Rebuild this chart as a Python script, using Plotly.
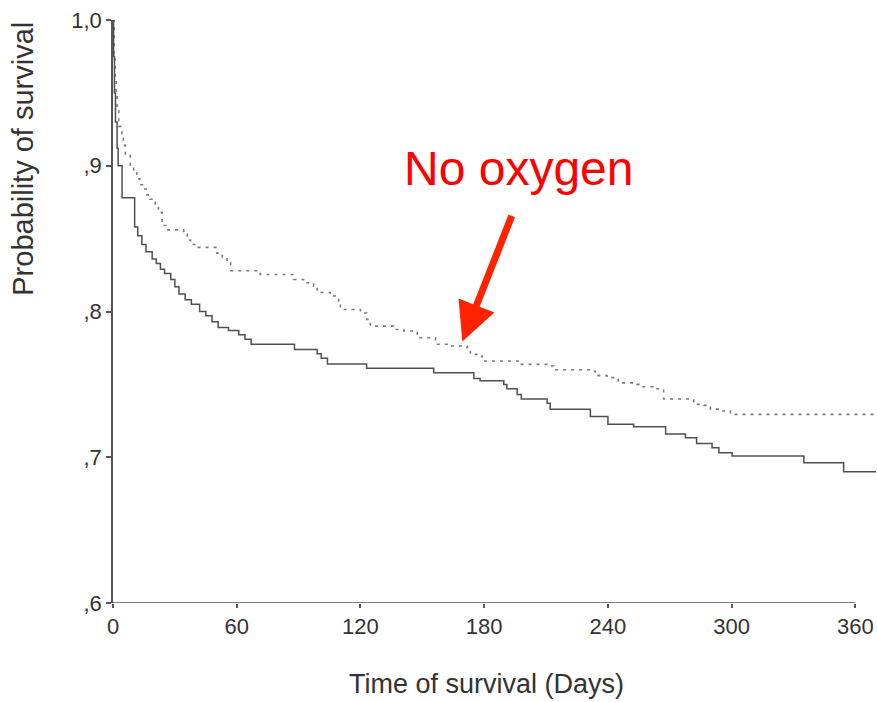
import plotly.graph_objects as go

# ---- data ----
oxygen_days = [0, 0.3, 0.7, 1.2, 2, 2.5, 4.4, 10.5, 12, 14, 16, 19, 21, 23, 25, 28, 30, 32, 35, 38,
               42, 45, 48, 51, 56, 61, 64, 67, 88, 99, 101, 104, 123, 155.5, 175, 178, 189.5, 191,
               196, 198, 210.5, 212, 231.5, 240, 252.5, 268, 277.6, 283, 290.5, 293.8, 300.2,
               335, 354.3, 370]
oxygen_surv = [1.0, 0.975, 0.95, 0.93, 0.912, 0.9, 0.878, 0.858, 0.852, 0.846, 0.841, 0.836, 0.833,
               0.829, 0.826, 0.822, 0.817, 0.812, 0.808, 0.805, 0.800, 0.797, 0.793, 0.789, 0.787,
               0.784, 0.781, 0.7775, 0.774, 0.771, 0.768, 0.764, 0.761, 0.758, 0.754, 0.7525,
               0.750, 0.747, 0.743, 0.740, 0.737, 0.733, 0.728, 0.7226, 0.721, 0.716, 0.7134,
               0.7095, 0.7066, 0.7031, 0.7008, 0.6963, 0.690, 0.690]

nooxygen_days = [0, 0.5, 1, 1.5, 2, 2.8, 4.3, 5, 6, 8.4, 10, 11.6, 13, 14.9, 16.5, 18, 20.5, 22,
                 23.8, 26, 34.3, 36, 37.6, 40.8, 50.4, 53, 55.3, 57, 71.4, 87.6, 92.4, 97.3, 99,
                 105.4, 109.4, 110.3, 120, 123, 124.8, 136, 141, 145.8, 147.5, 156.4, 162, 171.7,
                 173.3, 178, 179, 197.6, 212, 213.8, 231.5, 233.9, 239.6, 243.6, 245, 254, 256.5,
                 262, 267, 281.6, 286.5, 289.7, 294.5, 299.4, 370]
nooxygen_surv = [1.0, 0.975, 0.96, 0.95, 0.94, 0.927, 0.922, 0.914, 0.907, 0.899, 0.895, 0.891,
                 0.887, 0.884, 0.880, 0.877, 0.872, 0.868, 0.859, 0.856, 0.853, 0.849, 0.846, 0.844,
                 0.840, 0.837, 0.8335, 0.828, 0.8254, 0.822, 0.8197, 0.8174, 0.813, 0.8106, 0.807,
                 0.8014, 0.799, 0.7946, 0.790, 0.7877, 0.7866, 0.7855, 0.782, 0.7775, 0.7763,
                 0.7752, 0.7706, 0.7694, 0.766, 0.7637, 0.7626, 0.760, 0.759, 0.756, 0.7546,
                 0.7534, 0.751, 0.750, 0.7484, 0.747, 0.740, 0.7363, 0.7356, 0.733, 0.7317,
                 0.7294, 0.7294]

x_ticks = [0, 60, 120, 180, 240, 300, 360]
y_ticks = [0.6, 0.7, 0.8, 0.9, 1.0]
y_ticklabels = [",6", ",7", ",8", ",9", "1,0"]

annot_text = "No oxygen"
annot_point = (169.4, 0.7795)

FONT = "Liberation Sans, Arial, Helvetica, sans-serif"
AXIS_COLOR = "#555555"

fig = go.Figure()
fig.add_trace(go.Scatter(
    x=nooxygen_days, y=nooxygen_surv, mode="lines", line_shape="hv",
    line=dict(color="#7a7a7a", width=1.6, dash="3px,5px"),
    name="No oxygen", cliponaxis=False, showlegend=False))
fig.add_trace(go.Scatter(
    x=oxygen_days, y=oxygen_surv, mode="lines", line_shape="hv",
    line=dict(color="#505050", width=1.5),
    name="Oxygen", cliponaxis=False, showlegend=False))

fig.update_layout(
    width=877, height=702,
    margin=dict(l=113, r=1, t=20, b=99),
    paper_bgcolor="white", plot_bgcolor="white",
    font=dict(family=FONT, color="#333333"),
    xaxis=dict(range=[0, 370], tickvals=x_ticks, ticktext=[str(v) for v in x_ticks],
               showgrid=False, zeroline=False, showline=False,
               ticks="outside", ticklen=4, tickwidth=2, tickcolor=AXIS_COLOR,
               ticklabeloverflow="allow",
               tickfont=dict(size=22, color="#333333")),
    yaxis=dict(range=[0.6, 1.0], tickvals=y_ticks, ticktext=y_ticklabels,
               showgrid=False, zeroline=False, showline=True,
               linecolor=AXIS_COLOR, linewidth=1.5,
               ticks="outside", ticklen=5, tickwidth=2, tickcolor=AXIS_COLOR,
               ticklabeloverflow="allow",
               tickfont=dict(size=22, color="#333333")),
)

# x axis line only up to the last tick
fig.add_shape(type="line", xref="x", yref="y",
              x0=x_ticks[0], x1=x_ticks[-1], y0=y_ticks[0], y1=y_ticks[0],
              line=dict(color=AXIS_COLOR, width=1.5))

# axis titles
fig.add_annotation(text="Probability of survival", xref="paper", yref="paper",
                   x=-0.118, y=0.762, textangle=-90, showarrow=False,
                   xanchor="center", yanchor="middle",
                   font=dict(size=29, color="#333333", family=FONT))
fig.add_annotation(text="Time of survival (Days)", xref="paper", yref="paper",
                   x=0.489, y=-0.168, showarrow=False,
                   xanchor="center", yanchor="bottom",
                   font=dict(size=27, color="#333333", family=FONT))

# red label + arrow
fig.add_annotation(text=annot_text, xref="x", yref="y", x=196.6, y=0.898,
                   showarrow=False, xanchor="center", yanchor="middle",
                   font=dict(size=48, color="#ff0000", family=FONT))
fig.add_annotation(text="", xref="x", yref="y", x=annot_point[0], y=annot_point[1],
                   ax=50, ay=-127, showarrow=True, arrowhead=2, arrowsize=1.1,
                   arrowwidth=7, arrowcolor="#ff2200", standoff=0)

# remove the default page margin so the figure fills the window exactly
fig.write_html("out.html",
               config={"displayModeBar": False},
               post_script="document.body.style.margin='0';document.body.style.overflow='hidden';")
